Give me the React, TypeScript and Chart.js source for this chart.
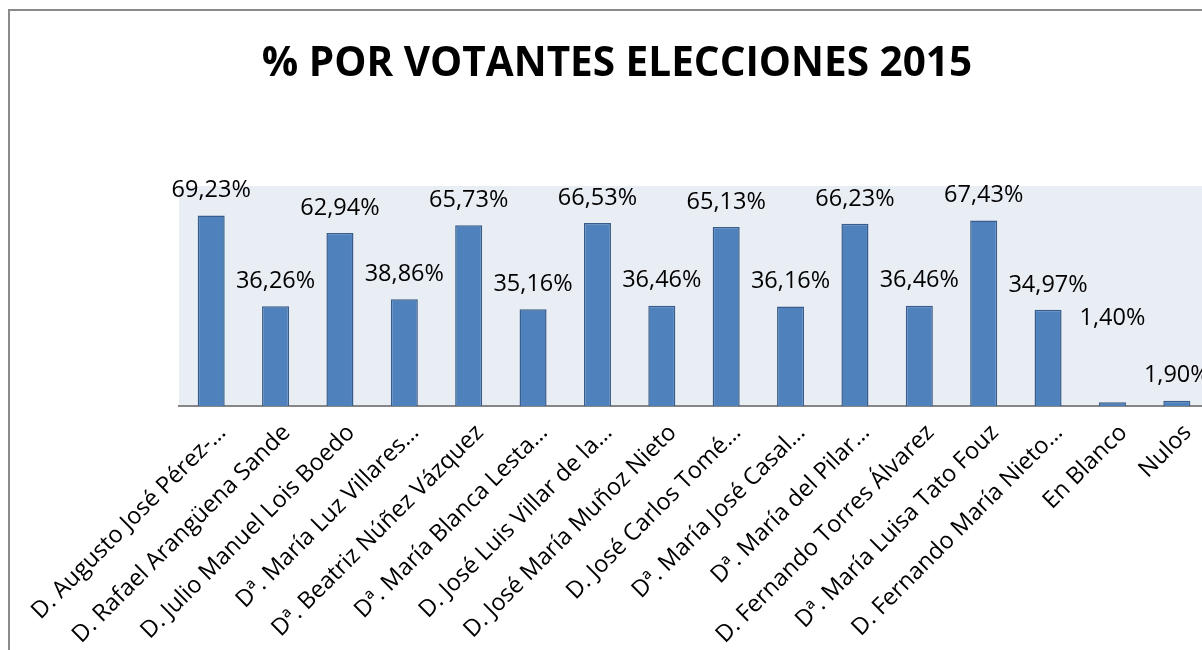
import React, { useEffect, useRef } from "react";
import { Chart, registerables } from "chart.js";

Chart.register(...registerables);

const TITLE = "% POR VOTANTES ELECCIONES 2015";

const categories: string[] = [
  "D. Augusto José Pérez-…",
  "D. Rafael Arangüena Sande",
  "D. Julio Manuel Lois Boedo",
  "Dª. María Luz Villares…",
  "Dª. Beatriz Núñez Vázquez",
  "Dª. María Blanca Lesta…",
  "D. José Luis Villar de la…",
  "D. José María Muñoz Nieto",
  "D. José Carlos Tomé…",
  "Dª. María José Casal…",
  "Dª. María del Pilar…",
  "D. Fernando Torres Álvarez",
  "Dª. María Luisa Tato Fouz",
  "D. Fernando María Nieto…",
  "En Blanco",
  "Nulos",
];

const percentages: number[] = [
  69.23, 36.26, 62.94, 38.86, 65.73, 35.16, 66.53, 36.46, 65.13, 36.16,
  66.23, 36.46, 67.43, 34.97, 1.4, 1.9,
];

const yMin = 0;
const yMax = 80;

// vertical gap (px) between bar top and its value label; one label sits higher
const LABEL_GAP = 25;
const LABEL_GAP_RAISED: Record<number, number> = { 14: 84 };

const fmt = (v: number) => v.toFixed(2).replace(".", ",") + "%";

const plotBg = {
  id: "plotBg",
  beforeDraw(chart: any) {
    const { ctx, chartArea } = chart;
    ctx.save();
    ctx.fillStyle = "#E9EDF4";
    ctx.fillRect(
      chartArea.left,
      chartArea.top,
      chartArea.right - chartArea.left,
      chartArea.bottom - chartArea.top
    );
    ctx.restore();
  },
};

const valueLabels = {
  id: "valueLabels",
  afterDatasetsDraw(chart: any) {
    const { ctx } = chart;
    const meta = chart.getDatasetMeta(0);
    const data = chart.data.datasets[0].data as number[];
    ctx.save();
    ctx.font = "23.5px 'Open Sans'";
    ctx.fillStyle = "#000000";
    ctx.textAlign = "center";
    ctx.textBaseline = "middle";
    meta.data.forEach((el: any, i: number) => {
      const gap = LABEL_GAP_RAISED[i] ?? LABEL_GAP;
      ctx.fillText(fmt(data[i]), el.x, el.y - gap);
    });
    ctx.restore();
  },
};

const hiddenAxis = (position: "left" | "right", width: number) => ({
  position,
  display: true,
  min: yMin,
  max: yMax,
  grid: { display: false, drawTicks: false },
  border: { display: false },
  ticks: { display: false },
  afterFit: (scale: any) => {
    scale.width = width;
  },
});

export default function App() {
  const ref = useRef<HTMLCanvasElement | null>(null);

  useEffect(() => {
    if (!ref.current) return;
    const chart = new Chart(ref.current, {
      type: "bar",
      data: {
        labels: categories,
        datasets: [
          {
            data: percentages,
            backgroundColor: "#4F81BD",
            borderColor: "#385D8A",
            borderWidth: 1.5,
            barPercentage: 0.42,
            categoryPercentage: 1,
            yAxisID: "y",
          },
        ],
      },
      options: {
        responsive: false,
        animation: false,
        layout: { padding: 0 },
        plugins: {
          legend: { display: false },
          tooltip: { enabled: false },
          title: {
            display: true,
            text: TITLE,
            color: "#000000",
            font: { family: "'Open Sans'", size: 40.5, weight: "bold", lineHeight: 1.2 },
            padding: { top: 30, bottom: 97.4 },
          },
        },
        scales: {
          x: {
            grid: { display: false, drawTicks: false },
            border: { display: true, color: "#868686", width: 2 },
            ticks: {
              color: "#000000",
              font: { family: "'Open Sans'", size: 23.5 },
              maxRotation: 45,
              minRotation: 45,
              autoSkip: false,
              padding: 13,
              labelOffset: 11,
            },
            afterFit: (scale: any) => {
              scale.height = 250;
              scale.paddingLeft = 0;
              scale.paddingRight = 0;
            },
          },
          y: hiddenAxis("left", 170) as any,
          y2: hiddenAxis("right", 16) as any,
        },
      },
      plugins: [plotBg, valueLabels],
    });
    return () => chart.destroy();
  }, []);

  return (
    <div
      style={{
        position: "fixed",
        left: 0,
        top: 0,
        width: 1202,
        height: 650,
        overflow: "hidden",
        background: "#ffffff",
      }}
    >
      <canvas
        ref={ref}
        width={1216}
        height={646}
        style={{ position: "absolute", left: 9, top: 10, width: 1216, height: 646 }}
      />
      <div
        style={{
          position: "absolute",
          left: 8,
          top: 9,
          width: 1300,
          height: 700,
          borderLeft: "2px solid #8A8A8A",
          borderTop: "2px solid #8A8A8A",
          pointerEvents: "none",
        }}
      />
    </div>
  );
}
